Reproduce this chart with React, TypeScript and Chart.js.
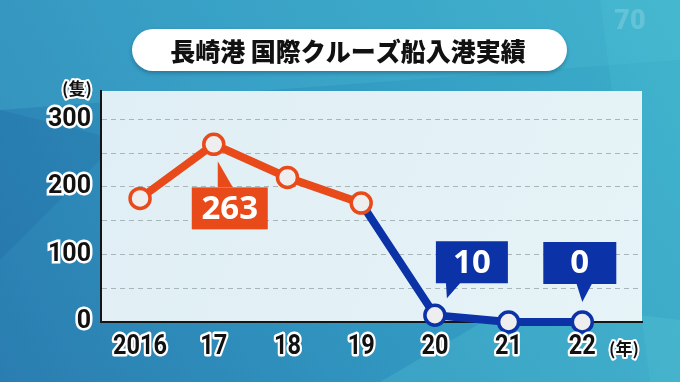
import React, { useEffect, useRef } from 'react';
import { Chart, registerables } from 'chart.js';

Chart.register(...registerables);

// ---- data ----
const years = ['2016', '17', '18', '19', '20', '21', '22'];
const cruiseCalls = [183, 263, 214, 176, 10, 0, 0];
const orangeIdx = [0, 1, 2, 3];
const blueIdx = [3, 4, 5, 6];
const yTickValues = [0, 50, 100, 150, 200, 250, 300];
const calloutIdx = [1, 4, 6];
const titleText = '長崎港 国際クルーズ船入港実績';
const yUnit = '(隻)';
const xUnit = '(年)';

const ORANGE = '#e94a19';
const BLUE = '#0b32a6';

function roundRect(ctx: CanvasRenderingContext2D, x: number, y: number, w: number, h: number, r: number) {
  ctx.beginPath();
  ctx.moveTo(x + r, y);
  ctx.lineTo(x + w - r, y);
  ctx.arc(x + w - r, y + r, r, -Math.PI / 2, 0);
  ctx.lineTo(x + w, y + h - r);
  ctx.arc(x + w - r, y + h - r, r, 0, Math.PI / 2);
  ctx.lineTo(x + r, y + h);
  ctx.arc(x + r, y + h - r, r, Math.PI / 2, Math.PI);
  ctx.lineTo(x, y + r);
  ctx.arc(x + r, y + r, r, Math.PI, Math.PI * 1.5);
  ctx.closePath();
}

const bgPlugin = {
  id: 'bgPlugin',
  beforeDraw(chart: any) {
    const { ctx, width, height, chartArea: a } = chart;
    ctx.save();
    const g = ctx.createLinearGradient(0, height, width, 0);
    g.addColorStop(0, '#2a7db0');
    g.addColorStop(0.45, '#3196c0');
    g.addColorStop(1, '#3cafca');
    ctx.fillStyle = g;
    ctx.fillRect(0, 0, width, height);
    const poly = (pts: number[][], col: string) => {
      ctx.beginPath();
      ctx.moveTo(pts[0][0], pts[0][1]);
      for (let i = 1; i < pts.length; i++) ctx.lineTo(pts[i][0], pts[i][1]);
      ctx.closePath();
      ctx.fillStyle = col;
      ctx.fill();
    };
    poly([[0, 0], [680, 0], [680, 60], [0, 110]], 'rgba(80,190,215,0.25)');
    poly([[0, 110], [120, 140], [0, 260]], 'rgba(20,80,150,0.15)');
    poly([[380, 382], [520, 300], [680, 320], [680, 382]], 'rgba(90,205,215,0.25)');
    poly([[600, 0], [680, 0], [680, 382], [650, 382]], 'rgba(90,205,215,0.18)');
    // plot area
    const pg = ctx.createLinearGradient(a.left, a.top, a.right, a.bottom);
    pg.addColorStop(0, '#e0eff5');
    pg.addColorStop(1, '#e6f3f7');
    ctx.fillStyle = pg;
    ctx.fillRect(a.left, a.top, a.right - a.left, a.bottom - a.top);
    // title pill
    ctx.shadowColor = 'rgba(0,40,80,0.35)';
    ctx.shadowBlur = 4;
    ctx.shadowOffsetY = 2;
    roundRect(ctx, 132, 29, 435, 42, 21);
    ctx.fillStyle = '#ffffff';
    ctx.fill();
    ctx.shadowColor = 'transparent';
    ctx.fillStyle = '#111111';
    ctx.font = '900 25px "Noto Sans CJK JP", sans-serif';
    ctx.textAlign = 'center';
    ctx.textBaseline = 'middle';
    ctx.fillText(titleText, 348, 51);
    // watermark
    ctx.font = '900 27px Roboto, sans-serif';
    ctx.fillStyle = 'rgba(255,255,255,0.18)';
    ctx.fillText('70', 630, 22);
    ctx.restore();
  },
};

const overlayPlugin = {
  id: 'overlayPlugin',
  afterDraw(chart: any) {
    const { ctx } = chart;
    const x = chart.scales.x;
    const y = chart.scales.y;
    ctx.save();
    ctx.textAlign = 'center';
    ctx.textBaseline = 'middle';
    ctx.lineJoin = 'round';
    ctx.strokeStyle = '#ffffff';
    ctx.fillStyle = '#111111';

    // x category labels (condensed)
    ctx.font = 'bold 28px Roboto, sans-serif';
    ctx.lineWidth = 5;
    years.forEach((lab, i) => {
      const px = x.getPixelForValue(i);
      ctx.save();
      ctx.translate(px, 347);
      ctx.scale(0.84, 1);
      ctx.strokeText(lab, 0, 0);
      ctx.fillText(lab, 0, 0);
      ctx.restore();
    });

    // unit labels
    ctx.font = 'bold 17px "Noto Sans CJK JP", sans-serif';
    ctx.lineWidth = 4;
    ctx.strokeText(yUnit, 77, 89);
    ctx.fillText(yUnit, 77, 89);
    ctx.strokeText(xUnit, 624, 349);
    ctx.fillText(xUnit, 624, 349);

    // callouts
    const specs: any = {
      1: { color: ORANGE, box: [-22, 43, 54, 85], tail: [[4, 43], [19, 43], [4, 17]] },
      4: { color: BLUE, box: [1, -74, 73, -32], tail: [[11, -33], [26, -33], [12, -17]] },
      6: { color: BLUE, box: [-39, -80, 34, -38], tail: [[-6, -39], [10, -39], [0, -20]] },
    };
    calloutIdx.forEach((i) => {
      const s = specs[i];
      const px = x.getPixelForValue(i);
      const py = y.getPixelForValue(cruiseCalls[i]);
      ctx.fillStyle = s.color;
      ctx.fillRect(px + s.box[0], py + s.box[1], s.box[2] - s.box[0], s.box[3] - s.box[1]);
      ctx.beginPath();
      ctx.moveTo(px + s.tail[0][0], py + s.tail[0][1]);
      ctx.lineTo(px + s.tail[1][0], py + s.tail[1][1]);
      ctx.lineTo(px + s.tail[2][0], py + s.tail[2][1]);
      ctx.closePath();
      ctx.fill();
      ctx.fillStyle = '#ffffff';
      ctx.font = 'bold 33px "Noto Sans", sans-serif';
      ctx.fillText(String(cruiseCalls[i]), px + (s.box[0] + s.box[2]) / 2, py + (s.box[1] + s.box[3]) / 2 + 1);
    });
    ctx.restore();
  },
};

export default function App() {
  const ref = useRef<HTMLCanvasElement | null>(null);
  useEffect(() => {
    if (!ref.current) return;
    const orangeData = orangeIdx.map((i) => ({ x: i, y: cruiseCalls[i] }));
    const blueData = blueIdx.map((i) => ({ x: i, y: cruiseCalls[i] }));
    const chart = new Chart(ref.current, {
      type: 'line',
      data: {
        datasets: [
          {
            data: orangeData,
            borderColor: ORANGE,
            borderWidth: 8,
            pointRadius: 10,
            pointBorderWidth: 3.5,
            pointBackgroundColor: '#eeeeee',
            pointBorderColor: ORANGE,
            clip: false,
          },
          {
            data: blueData,
            borderColor: BLUE,
            borderWidth: 8,
            pointRadius: blueIdx.map((i, k) => (k === 0 ? 0 : 10)),
            pointBorderWidth: 3.5,
            pointBackgroundColor: '#eeeeee',
            pointBorderColor: BLUE,
            clip: false,
          },
        ],
      } as any,
      options: {
        animation: false,
        responsive: false,
        events: [],
        layout: { padding: { top: 91, right: 38, left: 0, bottom: 0 } },
        plugins: { legend: { display: false }, tooltip: { enabled: false } },
        scales: {
          x: {
            type: 'linear',
            min: -0.53,
            max: 6.81,
            afterFit: (s: any) => { s.height = 60; },
            afterBuildTicks: (s: any) => { s.ticks = years.map((_, i) => ({ value: i })); },
            grid: { display: false, drawTicks: false },
            border: { display: true, color: '#151515', width: 2 },
            ticks: { display: false },
          },
          y: {
            min: 0,
            max: 342,
            afterFit: (s: any) => { s.width = 101; },
            afterBuildTicks: (s: any) => { s.ticks = yTickValues.map((v) => ({ value: v })); },
            grid: { color: '#aab5ba', lineWidth: 1, drawTicks: false },
            border: { display: true, color: '#151515', width: 2, dash: [5, 4] },
            ticks: {
              padding: 10,
              color: '#111111',
              textStrokeColor: '#ffffff',
              textStrokeWidth: 5,
              font: { family: 'Roboto, sans-serif', weight: 'bold', size: 25 },
              callback: (v: any) => (v % 100 === 0 ? String(v) : ''),
            },
          },
        },
      } as any,
      plugins: [bgPlugin, overlayPlugin],
    });
    return () => chart.destroy();
  }, []);
  return (
    <div style={{ position: 'fixed', left: 0, top: 0, width: 680, height: 382 }}>
      <canvas ref={ref} width={680} height={382} style={{ display: 'block' }} />
    </div>
  );
}
